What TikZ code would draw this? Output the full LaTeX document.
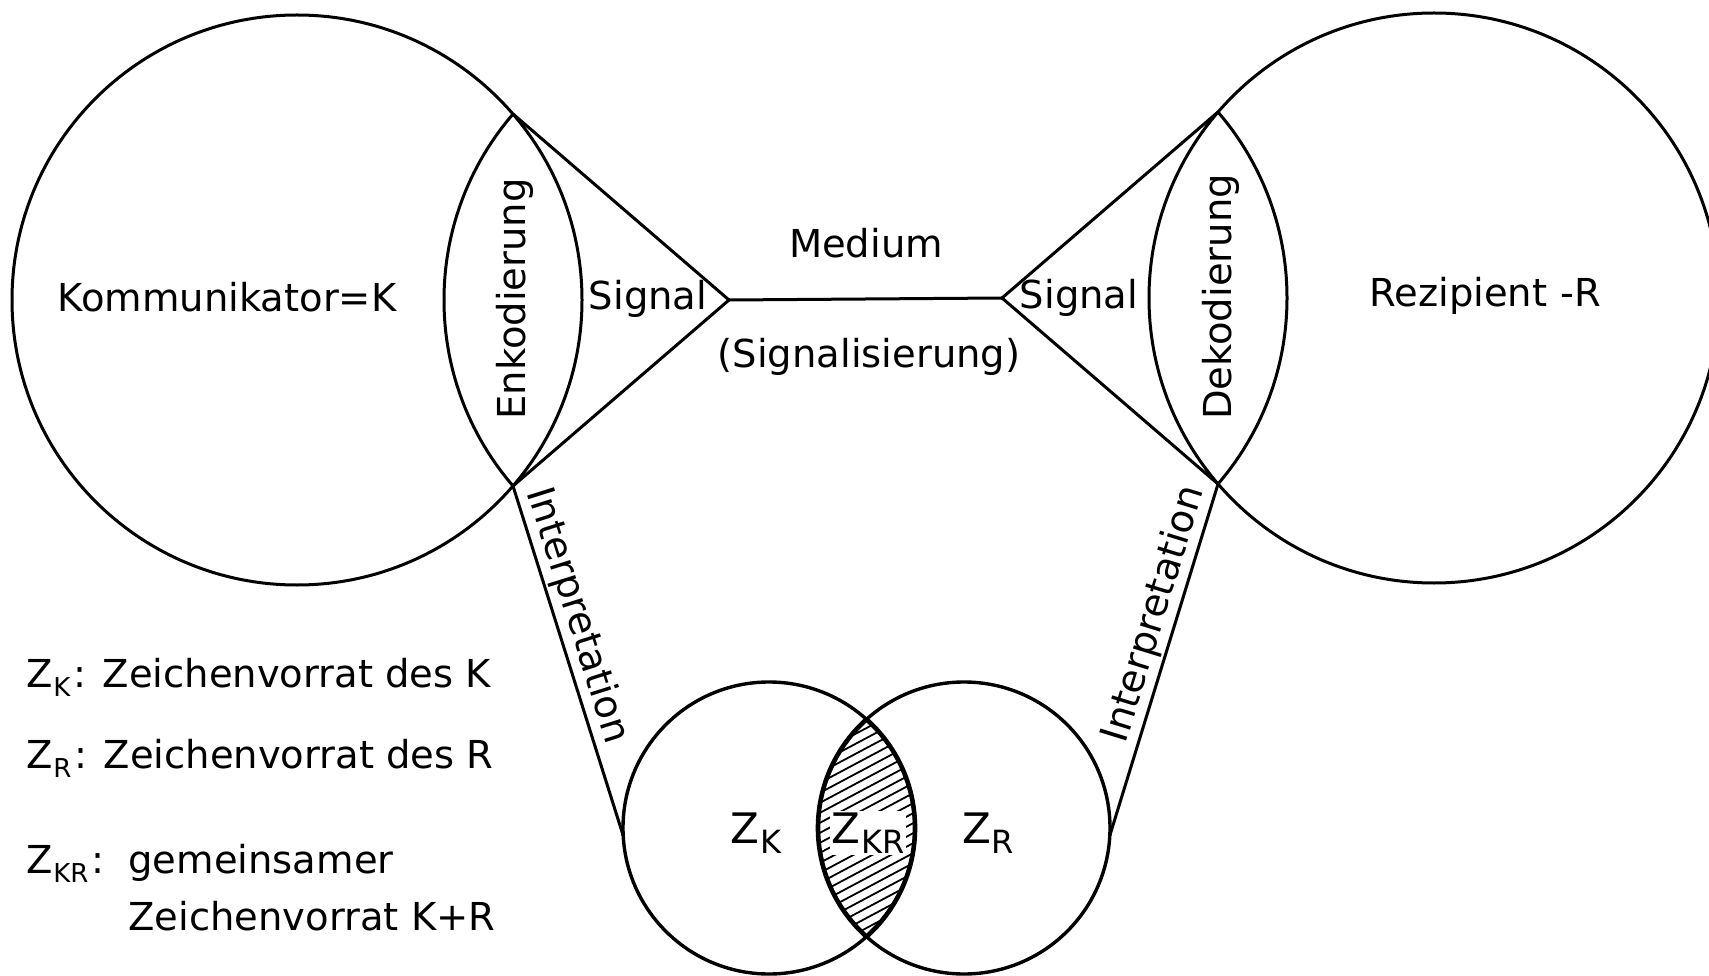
\documentclass[tikz,border=0pt]{standalone}
\usepackage{fontspec}
\setmainfont{DejaVu Sans}
\newcommand\Zsb[3]{Z\kern0.5pt\raisebox{-#3}{\fontsize{#2}{#2}\selectfont #1}}
\begin{document}
\begin{tikzpicture}[x=1pt,y=-1pt,line width=3pt,
  txt/.style={inner sep=0pt, font=\fontsize{38.5}{42}\selectfont},
  ring/.style={circle, draw, inner sep=0pt, outer sep=0pt},
  hatchln/.style={line width=1.8pt},
  lensln/.style={line width=4.6pt}]
\useasboundingbox (0,0) rectangle (1709,976);
% big circles
\node[ring, minimum size=570pt] (K) at (297,300) {};
\node[ring, minimum size=570pt] (R) at (1434,298) {};
\coordinate (J1) at (729,300);
\coordinate (J2) at (1002,298);
\coordinate (k1) at (513,114);
\coordinate (k2) at (513,486);
\coordinate (r1) at (1218,112);
\coordinate (r2) at (1218,484);
% lens arcs
\begin{scope}
\clip (K.center) circle (285pt);
\draw (J1) circle (285pt);
\end{scope}
\begin{scope}
\clip (R.center) circle (285pt);
\draw (J2) circle (285pt);
\end{scope}
\draw (k1) -- (J1) -- (k2);
\draw (r1) -- (J2) -- (r2);
\draw (J1) -- (J2);
% bottom circles
\node[ring, line width=3.4pt, minimum size=292pt] (ZK) at (769,828) {};
\node[ring, line width=3.4pt, minimum size=292pt] (ZR) at (964,828) {};
\begin{scope}
\clip (ZK.center) circle (146pt);
\clip (ZR.center) circle (146pt);
\foreach \k in {-20,...,20}
  \draw[hatchln] (690,{828+10*\k+94}) -- (1043,{828+10*\k-94});
\end{scope}
\begin{scope}\clip (ZK.center) circle (146pt); \draw[lensln] (ZR.center) circle (146pt);\end{scope}
\begin{scope}\clip (ZR.center) circle (146pt); \draw[lensln] (ZK.center) circle (146pt);\end{scope}
\node[txt, anchor=base, font=\fontsize{42}{44}\selectfont] (zk) at (756,843) {\Zsb{K}{32pt}{10pt}};
\node[txt, anchor=base, fill=white, inner sep=1.5pt, font=\fontsize{42}{44}\selectfont] (zkr) at (868,843) {\Zsb{KR}{32pt}{10pt}};
\node[txt, anchor=base, font=\fontsize{42}{44}\selectfont] (zr) at (988,843) {\Zsb{R}{32pt}{10pt}};
% interpretation
\draw (k2) -- node[txt, sloped, above=2pt, pos=0.39] (i1) {Interpretation} (ZK.183);
\draw (ZR.-3) -- node[txt, sloped, above=2pt, pos=0.61] (i2) {Interpretation} (r2);
% labels
\node[txt, anchor=base] (kom) at (227,312) {Kommunikator=K};
\node[txt, anchor=base, rotate=90] (enk) at (525,299) {Enkodierung};
\node[txt, anchor=base] (sig1) at (648,310) {Signal};
\node[txt, anchor=base] (med) at (866,258) {Medium};
\node[txt, anchor=base] (sigz) at (869,367) {(Signalisierung)};
\node[txt, anchor=base] (sig2) at (1079,309) {Signal};
\node[txt, anchor=base, rotate=90] (dek) at (1231,297) {Dekodierung};
\node[txt, anchor=base west] (rez) at (1368,307) {Rezipient\hspace{0.35em}-R};
% legend
\node[txt, anchor=base west] (l1) at (25,687) {\Zsb{K}{26pt}{9pt}\kern3pt: Zeichenvorrat des K};
\node[txt, anchor=base west] (l2) at (25,768) {\Zsb{R}{26pt}{9pt}\kern3pt: Zeichenvorrat des R};
\node[txt, anchor=base west] (l3a) at (25,873) {\Zsb{KR}{26pt}{9pt}\kern3pt:};
\node[txt, anchor=base west] (l3) at (127,873) {gemeinsamer};
\node[txt, anchor=base west] (l4) at (127,930) {Zeichenvorrat K+R};
\end{tikzpicture}
\end{document}
